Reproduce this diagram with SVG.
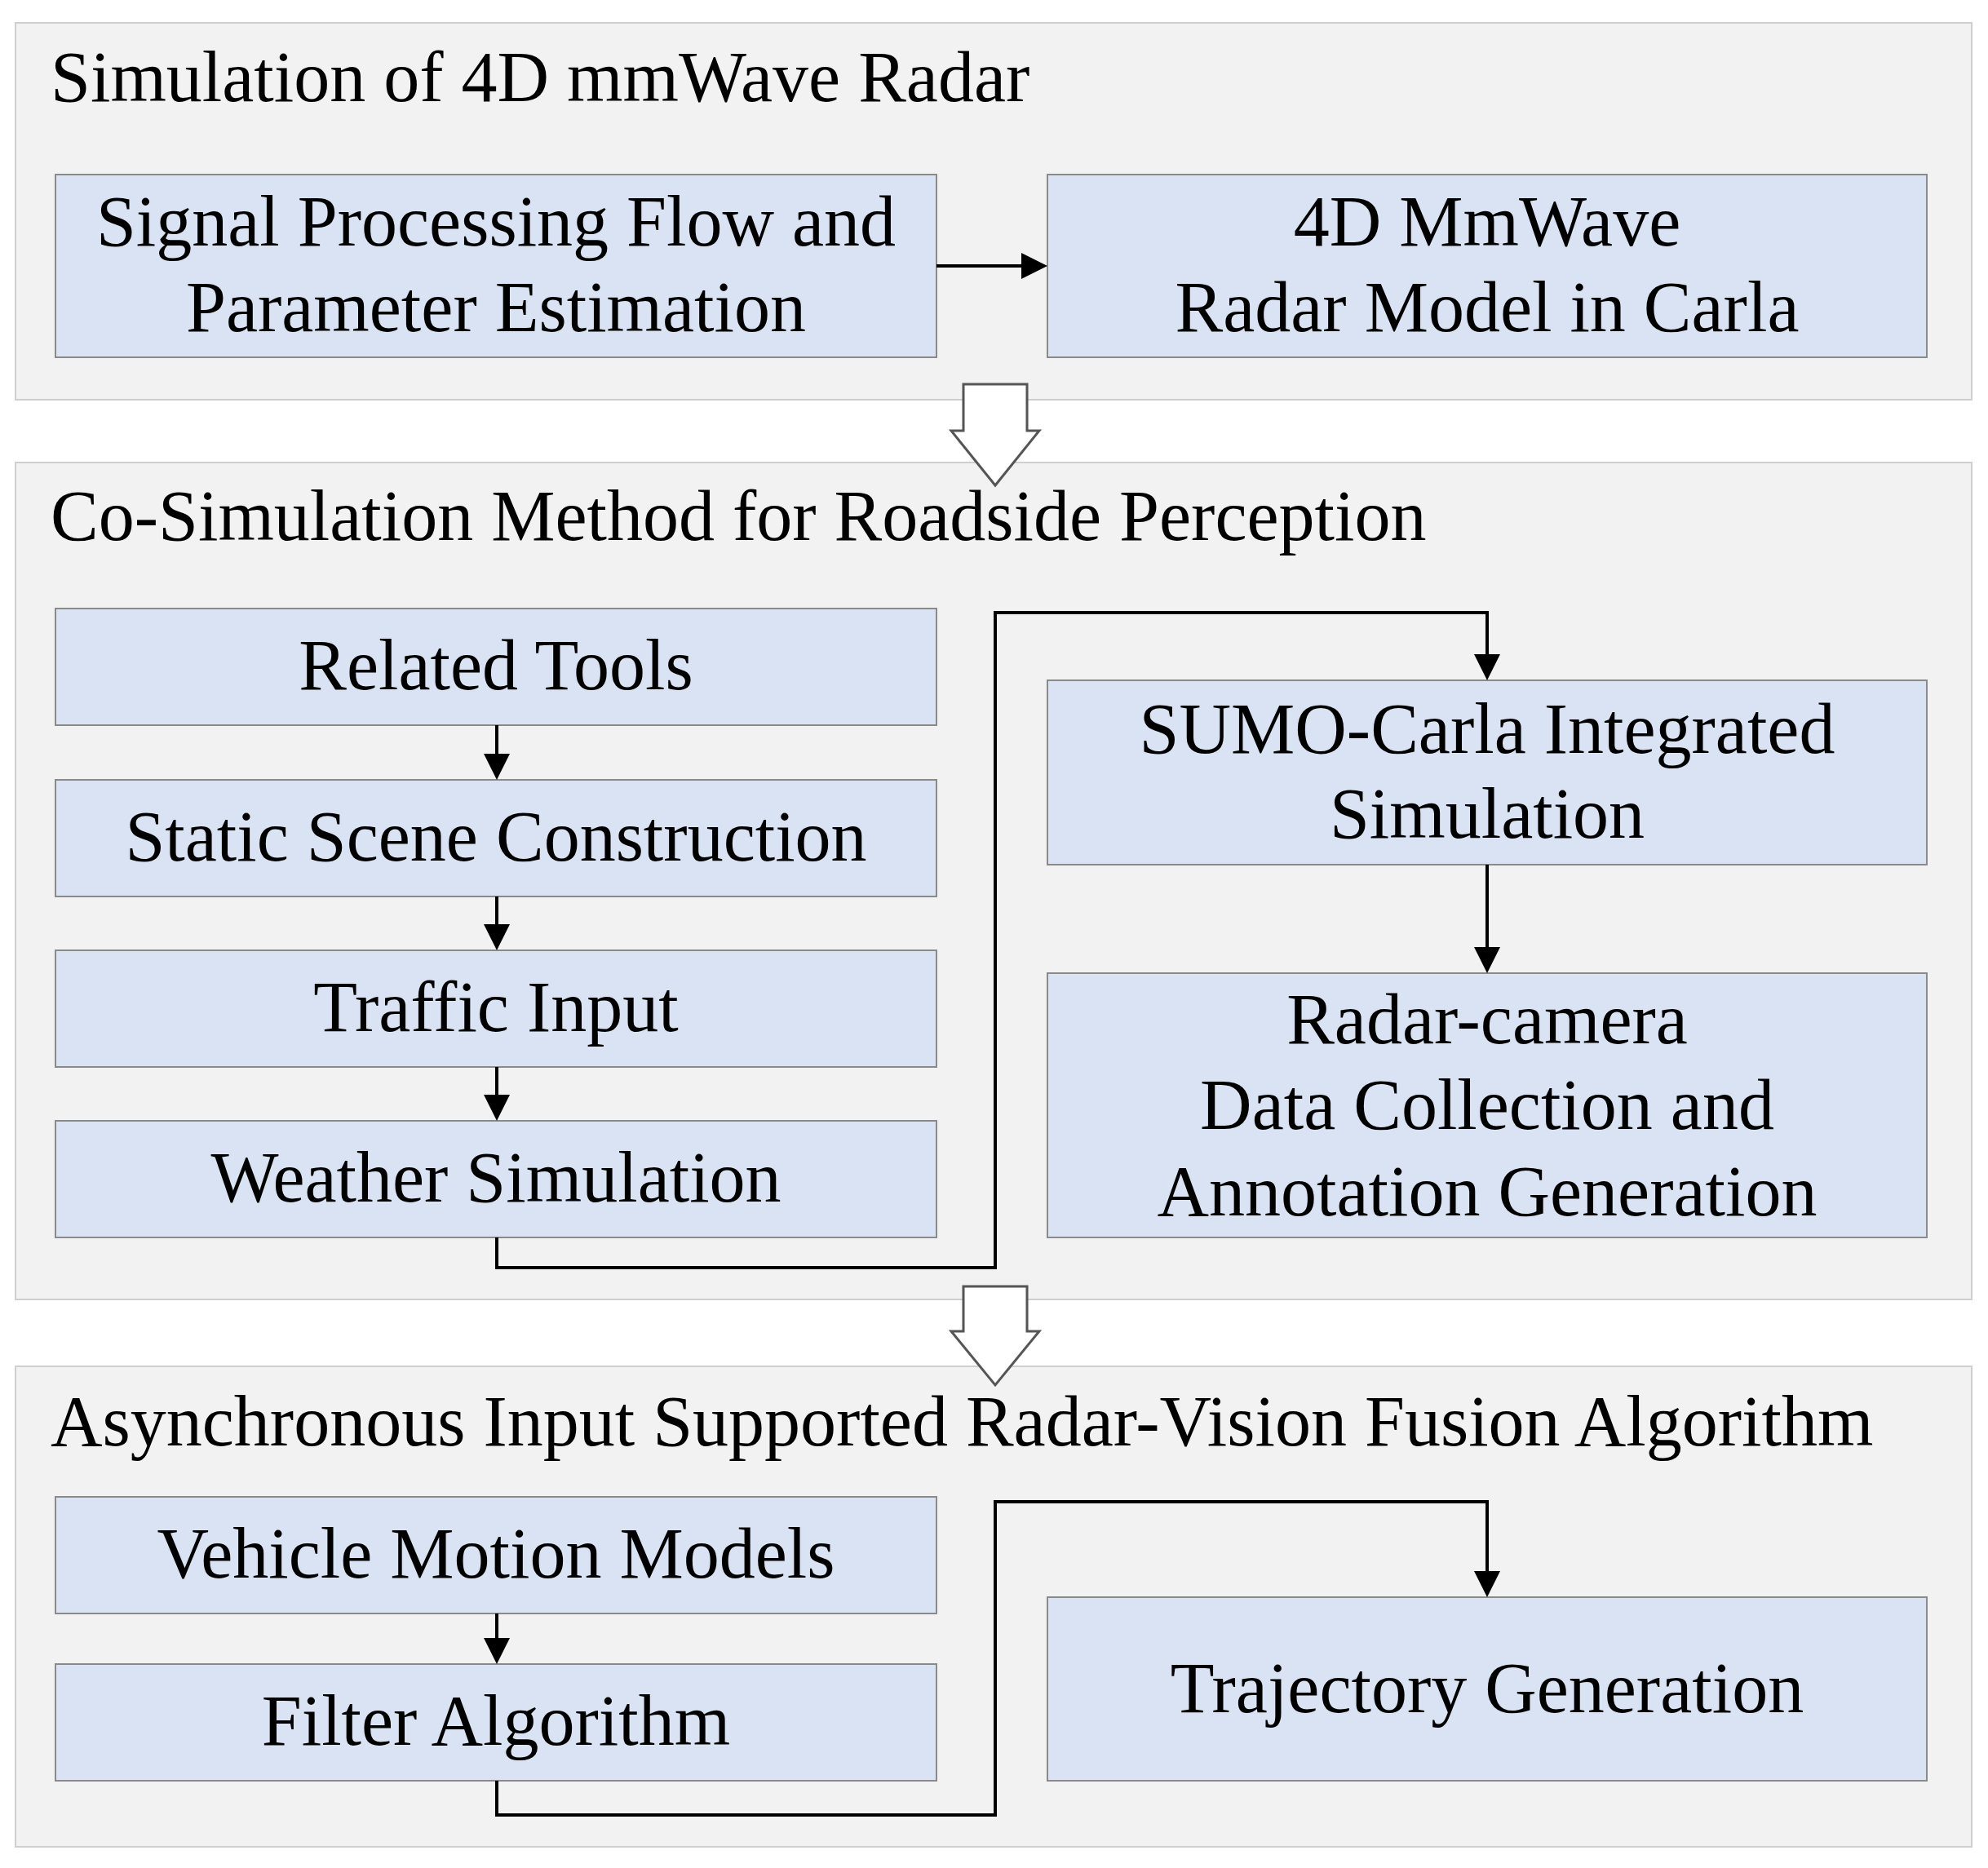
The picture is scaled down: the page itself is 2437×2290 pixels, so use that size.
<svg xmlns="http://www.w3.org/2000/svg" width="2437" height="2290" viewBox="0 0 2437 2290">
<style>
.p{fill:#f2f2f2;stroke:#cfcfcf;stroke-width:2}
.b{fill:#dae3f3;stroke:#8a8a8a;stroke-width:2}
text{font-family:"Liberation Serif",serif;font-size:88px;fill:#000}
.c{text-anchor:middle}
.l{fill:none;stroke:#000;stroke-width:4}
.h{fill:#fff;stroke:#555;stroke-width:3}
</style>
<defs><marker id="a" markerWidth="8" markerHeight="8" refX="7" refY="4" orient="auto" markerUnits="strokeWidth"><path d="M0,0L8,4L0,8z" fill="#000"/></marker></defs>
<rect x="0" y="0" width="2437" height="2290" fill="#fff"/>
<g id="panel1"><rect class="p" x="19" y="28" width="2398" height="462"/><text x="62" y="124">Simulation of 4D mmWave Radar</text></g>
<g id="panel2"><rect class="p" x="19" y="567" width="2398" height="1026"/><text x="62" y="662">Co-Simulation Method for Roadside Perception</text></g>
<g id="panel3"><rect class="p" x="19" y="1675" width="2398" height="589"/><text x="62" y="1772">Asynchronous Input Supported Radar-Vision Fusion Algorithm</text></g>
<g id="signal"><rect class="b" x="68" y="214" width="1080" height="224"/><text class="c" x="608" y="301">Signal Processing Flow and</text><text class="c" x="608" y="406">Parameter Estimation</text></g>
<g id="model"><rect class="b" x="1284" y="214" width="1078" height="224"/><text class="c" x="1823" y="301">4D MmWave</text><text class="c" x="1823" y="406">Radar Model in Carla</text></g>
<g id="tools"><rect class="b" x="68" y="746" width="1080" height="143"/><text class="c" x="608" y="845">Related Tools</text></g>
<g id="static"><rect class="b" x="68" y="956" width="1080" height="143"/><text class="c" x="608" y="1055">Static Scene Construction</text></g>
<g id="traffic"><rect class="b" x="68" y="1165" width="1080" height="143"/><text class="c" x="608" y="1264">Traffic Input</text></g>
<g id="weather"><rect class="b" x="68" y="1374" width="1080" height="143"/><text class="c" x="608" y="1473">Weather Simulation</text></g>
<g id="sumo"><rect class="b" x="1284" y="834" width="1078" height="226"/><text class="c" x="1823" y="923">SUMO-Carla Integrated</text><text class="c" x="1823" y="1027">Simulation</text></g>
<g id="radarcam"><rect class="b" x="1284" y="1193" width="1078" height="324"/><text class="c" x="1823" y="1279">Radar-camera</text><text class="c" x="1823" y="1384">Data Collection and</text><text class="c" x="1823" y="1490">Annotation Generation</text></g>
<g id="vehicle"><rect class="b" x="68" y="1835" width="1080" height="143"/><text class="c" x="608" y="1934">Vehicle Motion Models</text></g>
<g id="filter"><rect class="b" x="68" y="2040" width="1080" height="143"/><text class="c" x="608" y="2139">Filter Algorithm</text></g>
<g id="trajectory"><rect class="b" x="1284" y="1958" width="1078" height="225"/><text class="c" x="1823" y="2099">Trajectory Generation</text></g>
<g id="connectors">
<path class="l" marker-end="url(#a)" d="M1148,326H1280"/>
<path class="l" marker-end="url(#a)" d="M609,889V952"/>
<path class="l" marker-end="url(#a)" d="M609,1099V1161"/>
<path class="l" marker-end="url(#a)" d="M609,1308V1370"/>
<path class="l" marker-end="url(#a)" d="M609,1517V1554H1220V751H1823V830"/>
<path class="l" marker-end="url(#a)" d="M1823,1060V1189"/>
<path class="l" marker-end="url(#a)" d="M609,1978V2036"/>
<path class="l" marker-end="url(#a)" d="M609,2183V2225H1220V1841H1823V1954"/>
<path class="h" d="M1181,471H1259V528H1274L1220,595L1166,528H1181Z"/>
<path class="h" d="M1181,1577H1259V1632H1274L1220,1698L1166,1632H1181Z"/>
</g>
</svg>
